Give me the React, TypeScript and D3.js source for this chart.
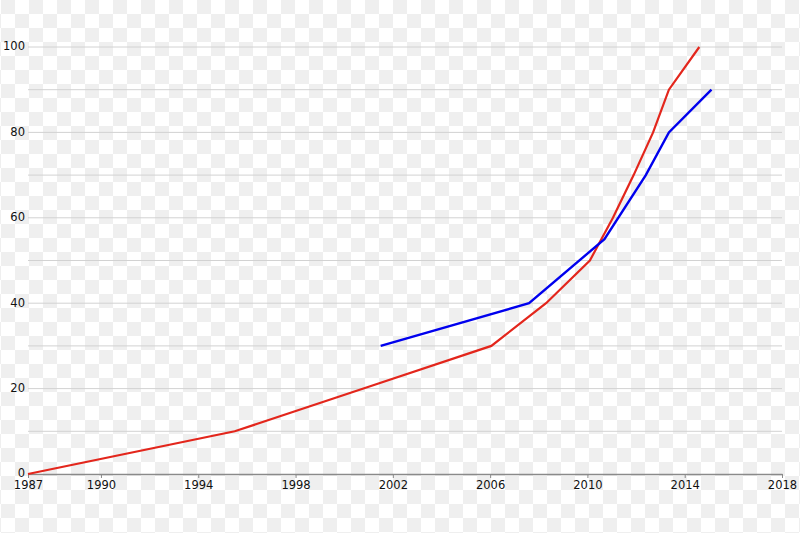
import React, { useEffect, useRef } from 'react';
import * as d3 from 'd3';

// values
const redYears = [1987, 1995.5, 2001.1, 2006.05, 2008.3, 2010.1, 2011.05, 2011.9, 2012.7, 2013.35, 2014.6];
const redValues = [0, 10, 20.6, 30, 40, 50, 60, 70, 80, 90, 100];
const blueYears = [2001.5, 2007.6, 2010.7, 2012.4, 2013.35, 2015.1];
const blueValues = [30, 40, 55, 70, 80, 90];
const xTicks = [1987, 1990, 1994, 1998, 2002, 2006, 2010, 2014, 2018];
const yTicks = [0, 20, 40, 60, 80, 100];
const gridValues = [10, 20, 30, 40, 50, 60, 70, 80, 90, 100];

const width = 800;
const height = 533;

const App: React.FC = () => {
  const svgRef = useRef<SVGSVGElement>(null);

  useEffect(() => {
    if (!svgRef.current) return;
    const svg = d3.select(svgRef.current);
    svg.selectAll('*').remove();

    const x = d3.scaleLinear().domain([1987, 2018]).range([28, 782]);
    const y = d3.scaleLinear().domain([0, 100]).range([474, 47]);

    // checkered background
    const defs = svg.append('defs');
    const pat = defs.append('pattern')
      .attr('id', 'checker')
      .attr('width', 28)
      .attr('height', 28)
      .attr('patternUnits', 'userSpaceOnUse')
      .attr('x', 1)
      .attr('y', 0);
    pat.append('rect').attr('width', 28).attr('height', 28).attr('fill', '#ffffff');
    pat.append('rect').attr('width', 14).attr('height', 14).attr('fill', '#efefef');
    pat.append('rect').attr('x', 14).attr('y', 14).attr('width', 14).attr('height', 14).attr('fill', '#efefef');
    svg.append('rect').attr('width', width).attr('height', height).attr('fill', 'url(#checker)');

    // grid lines
    svg.append('g')
      .selectAll('line')
      .data(gridValues)
      .enter().append('line')
      .attr('x1', x(1987))
      .attr('x2', x(2018))
      .attr('y1', d => y(d))
      .attr('y2', d => y(d))
      .attr('stroke', '#d2d2d2')
      .attr('stroke-width', 1);

    // x axis
    const xAxis = svg.append('g')
      .attr('transform', `translate(0,${y(0)})`)
      .call(d3.axisBottom(x).tickValues(xTicks).tickFormat(d3.format('d')).tickSize(4).tickSizeOuter(0));
    xAxis.select('.domain').attr('stroke', '#8a8a8a').attr('stroke-width', 1.5);
    xAxis.selectAll('.tick line').attr('stroke', '#8a8a8a').attr('stroke-width', 1);
    xAxis.selectAll('.tick text')
      .attr('y', 7)
      .style('font-family', 'DejaVu Sans, sans-serif')
      .style('font-size', '11.5px')
      .style('fill', '#111');

    // y labels
    svg.append('g')
      .selectAll('text')
      .data(yTicks)
      .enter().append('text')
      .attr('x', 25)
      .attr('y', d => y(d))
      .attr('dy', '0.3em')
      .attr('text-anchor', 'end')
      .style('font-family', 'DejaVu Sans, sans-serif')
      .style('font-size', '11.5px')
      .style('fill', '#111')
      .text(d => d);

    const line = d3.line<[number, number]>()
      .x(d => x(d[0]))
      .y(d => y(d[1]));

    svg.append('path')
      .datum(redYears.map((yr, i) => [yr, redValues[i]] as [number, number]))
      .attr('d', line)
      .attr('fill', 'none')
      .attr('stroke', '#e3261c')
      .attr('stroke-width', 2.2);

    svg.append('path')
      .datum(blueYears.map((yr, i) => [yr, blueValues[i]] as [number, number]))
      .attr('d', line)
      .attr('fill', 'none')
      .attr('stroke', '#0000ee')
      .attr('stroke-width', 2.4);
  }, []);

  return (
    <svg
      ref={svgRef}
      width={width}
      height={height}
      style={{ position: 'absolute', left: 0, top: 0 }}
    />
  );
};

export default App;
